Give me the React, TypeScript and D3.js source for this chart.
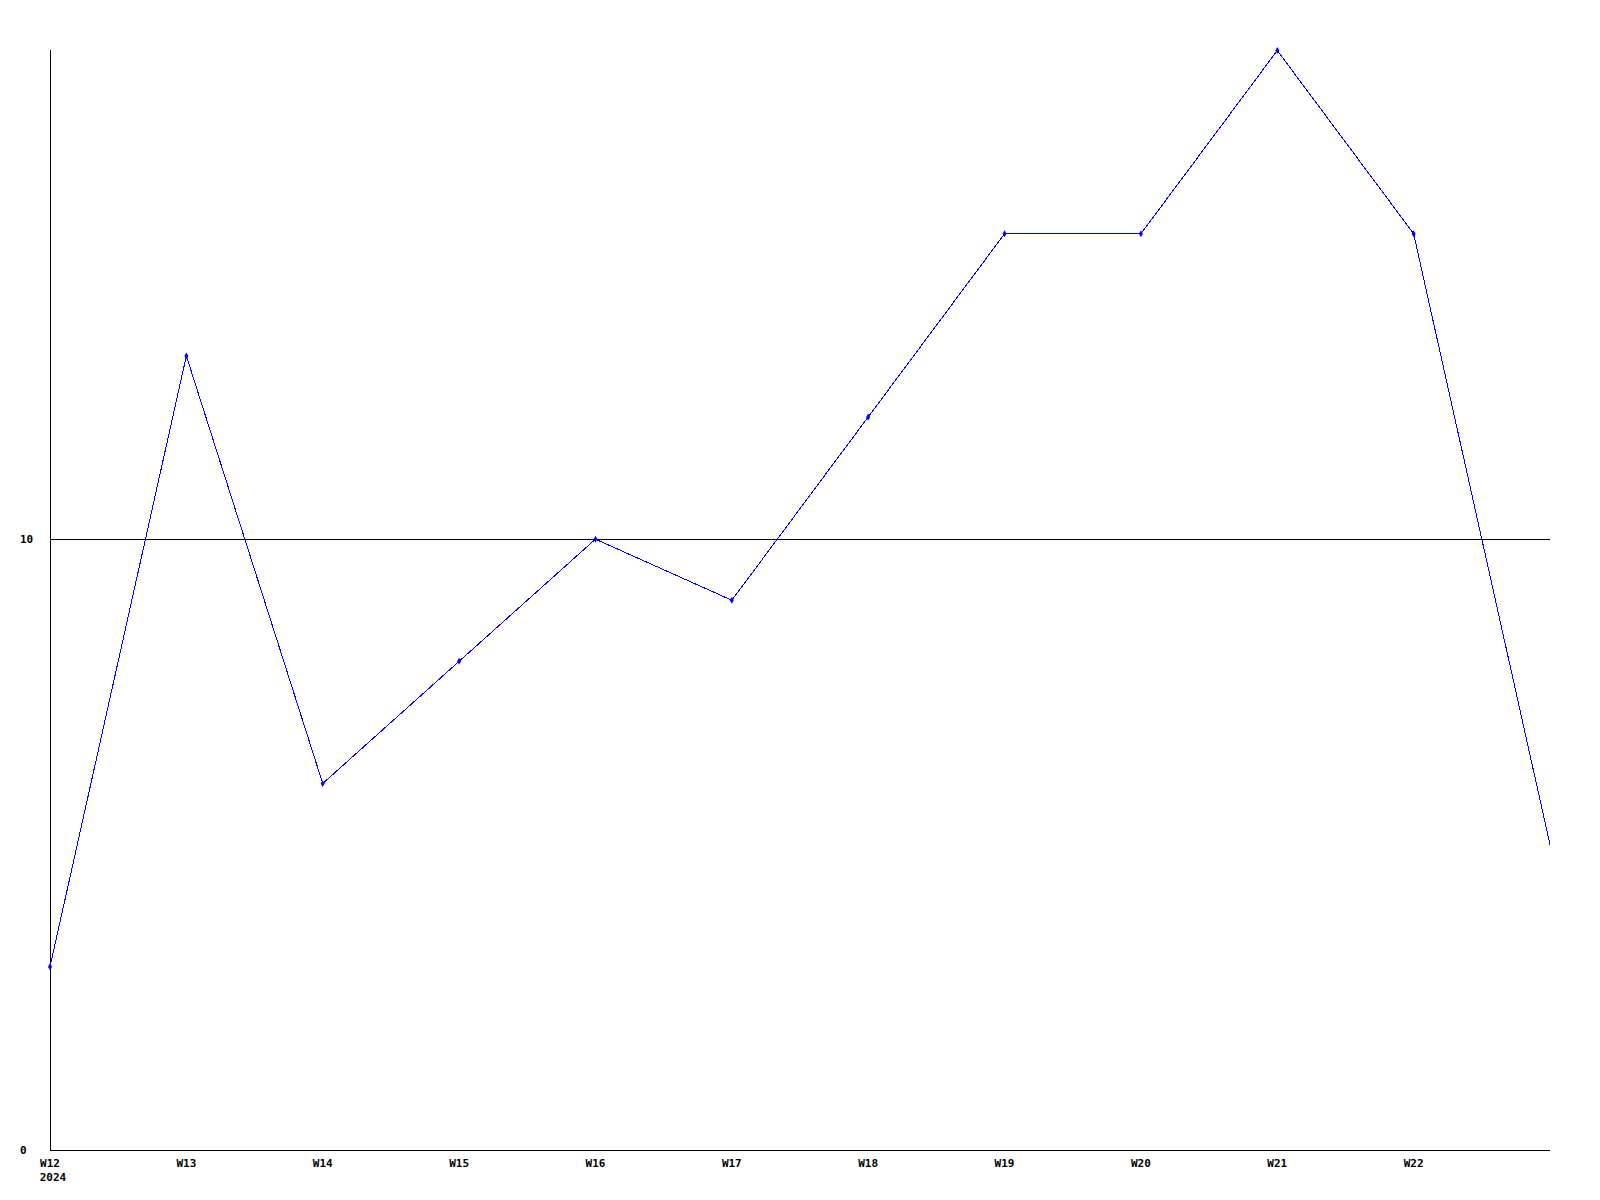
import React from "react";
import * as d3 from "d3";

const weeks = ["W12", "W13", "W14", "W15", "W16", "W17", "W18", "W19", "W20", "W21", "W22", "W23"];
const values = [3, 13, 6, 8, 10, 9, 12, 15, 15, 18, 15, 5];
const tickLabels = ["W12", "W13", "W14", "W15", "W16", "W17", "W18", "W19", "W20", "W21", "W22"];
const yTicks = [0, 10];
const yearLabel = "2024";

export default function App() {
  const W = 1600, H = 1200;
  const left = 50, right = 1550, top = 50.5, bottom = 1150;
  const x = d3.scalePoint<string>().domain(weeks).range([left, right]);
  const y = d3.scaleLinear().domain([0, 18]).range([bottom, top]);
  const line = d3.line<number>().x((_, i) => x(weeks[i])!).y((d) => y(d));
  const font = "'DejaVu Sans Mono', monospace";
  return (
    <svg width={W} height={H} style={{ position: "absolute", left: 0, top: 0, background: "#fff" }}>
      <rect x={0} y={0} width={W} height={H} fill="#fff" />
      <line x1={left + 0.5} x2={left + 0.5} y1={50} y2={bottom} stroke="#000" strokeWidth={1} shapeRendering="crispEdges" />
      {yTicks.map((t) => (
        <g key={t}>
          <line x1={left} x2={right} y1={Math.floor(y(t)) + 0.5} y2={Math.floor(y(t)) + 0.5} stroke="#000" strokeWidth={1} shapeRendering="crispEdges" />
          <text x={20} y={y(t)} textAnchor="start" dominantBaseline="central" fontFamily={font} fontWeight="bold" fontSize={11} fill="#000">{t}</text>
        </g>
      ))}
      {tickLabels.map((w) => (
        <text key={w} x={x(w)!} y={1163} textAnchor="middle" dominantBaseline="central" fontFamily={font} fontWeight="bold" fontSize={11} fill="#000">{w}</text>
      ))}
      <text x={x("W12")! + 3} y={1177} textAnchor="middle" dominantBaseline="central" fontFamily={font} fontWeight="bold" fontSize={11} fill="#000">{yearLabel}</text>
      <path d={line(values)!} fill="none" stroke="#0000ff" strokeWidth={1} shapeRendering="crispEdges" />
      {values.slice(0, values.length - 1).map((v, i) => (
        <path key={i} d={d3.symbol(d3.symbolDiamond, 14)()!} transform={`translate(${x(weeks[i])},${y(v)})`} fill="#0000ff" />
      ))}
    </svg>
  );
}
